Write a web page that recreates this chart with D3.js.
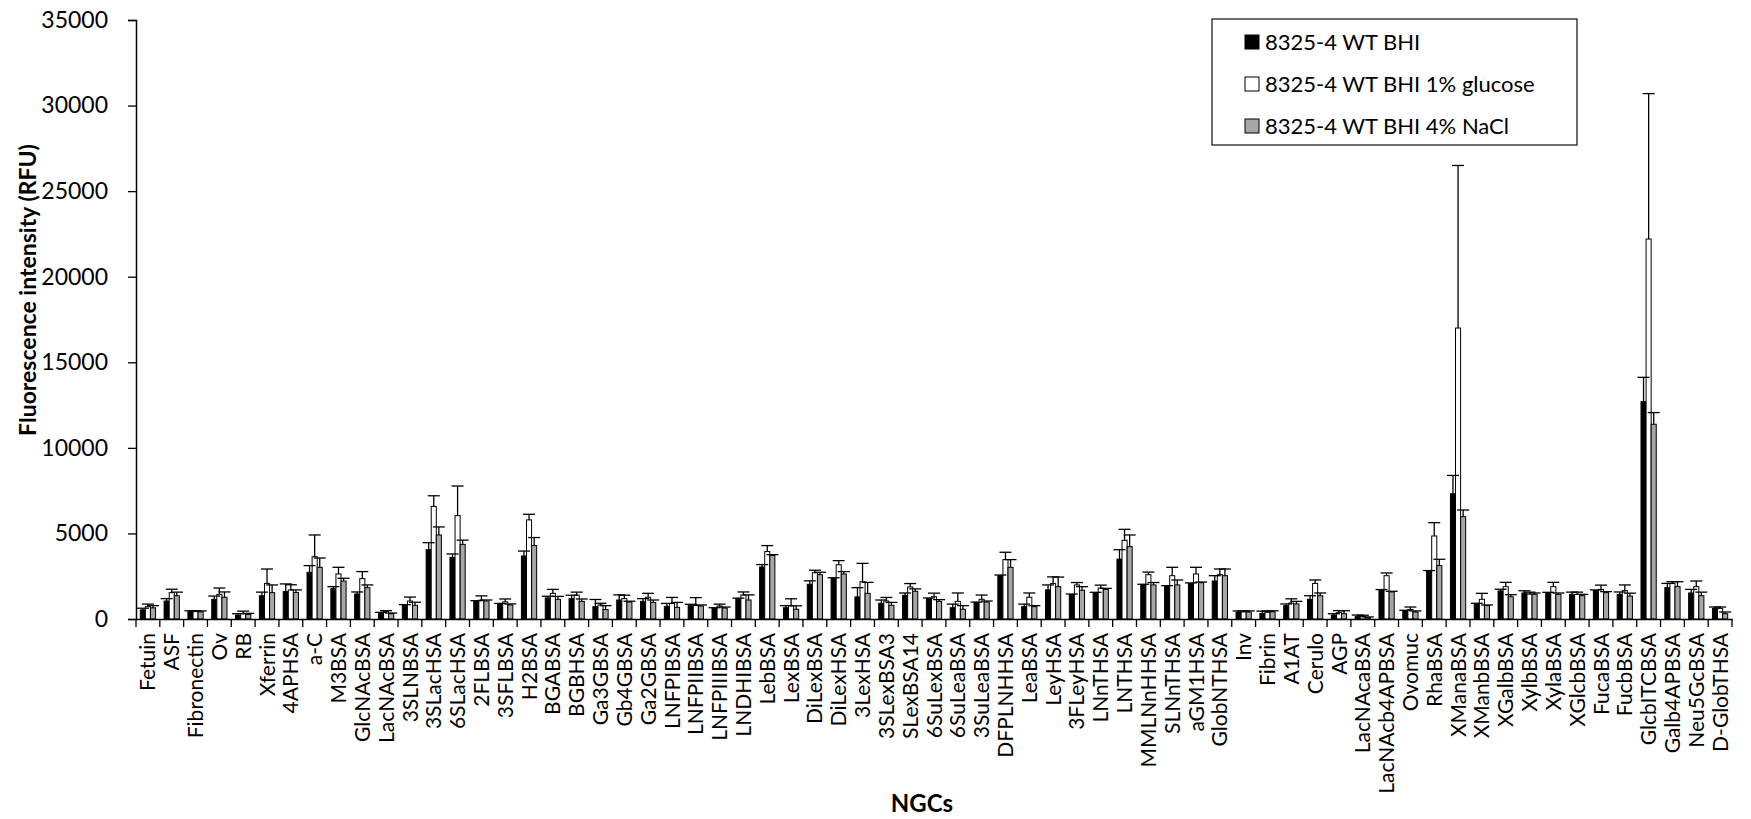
<!DOCTYPE html>
<html><head><meta charset="utf-8">
<script src="https://cdn.jsdelivr.net/npm/d3@7"></script>
<style>body{margin:0;background:#fff} svg{display:block} text{font-family:Lato, "Open Sans", sans-serif}</style>
</head><body><svg id="c" width="1751" height="819"></svg>
<script>
const categories = ["Fetuin","ASF","Fibronectin","Ov","RB","Xferrin","4APHSA","a-C","M3BSA","GlcNAcBSA","LacNAcBSA","3SLNBSA","3SLacHSA","6SLacHSA","2FLBSA","3SFLBSA","H2BSA","BGABSA","BGBHSA","Ga3GBSA","Gb4GBSA","Ga2GBSA","LNFPIBSA","LNFPIIBSA","LNFPIIIBSA","LNDHIBSA","LebBSA","LexBSA","DiLexBSA","DiLexHSA","3LexHSA","3SLexBSA3","SLexBSA14","6SuLexBSA","6SuLeaBSA","3SuLeaBSA","DFPLNHHSA","LeaBSA","LeyHSA","3FLeyHSA","LNnTHSA","LNTHSA","MMLNnHHSA","SLNnTHSA","aGM1HSA","GlobNTHSA","Inv","Fibrin","A1AT","Cerulo","AGP","LacNAcaBSA","LacNAcb4APBSA","Ovomuc","RhaBSA","XManaBSA","XManbBSA","XGalbBSA","XylbBSA","XylaBSA","XGlcbBSA","FucaBSA","FucbBSA","GlcbITCBSA","Galb4APBSA","Neu5GcBSA","D-GlobTHSA"];
const seriesNames = ["8325-4 WT BHI","8325-4 WT BHI 1% glucose","8325-4 WT BHI 4% NaCl"];
const seriesColors = ["#000000","#ffffff","#a6a6a6"];

const bhi =      [530,1050,430,1150,230,1360,1600,2730,1770,1460,310,780,4050,3600,1030,870,3680,1230,1190,720,1110,1030,740,780,620,1190,3040,660,2030,2380,1290,920,1380,1190,660,950,2530,720,1700,1420,1520,3500,1990,1910,2070,2220,410,330,780,1150,230,140,1680,470,2790,7320,880,1640,1520,1520,1440,1660,1440,12700,1830,1520,620];
const bhiErr =   [100,140,50,190,80,210,450,390,120,120,80,60,410,200,40,40,290,100,200,420,300,160,170,80,40,30,140,120,200,30,540,190,140,40,210,40,40,150,290,40,40,550,40,40,40,310,60,130,100,210,80,90,40,40,40,1070,40,100,130,40,130,40,140,1420,250,210,80];
const glucose =  [720,1540,430,1440,310,2080,1700,3640,2630,2360,450,1050,6580,6040,1100,1000,5790,1500,1400,820,1190,1270,910,800,760,1400,3940,780,2700,3170,2180,1050,1870,1300,1030,1150,3470,1270,2070,1990,1810,4600,2590,2530,2630,2590,410,390,930,2080,370,150,2530,560,4850,17000,1150,1890,1450,1890,1440,1730,1660,22200,2080,1890,620];
const glucoseErr=[150,200,50,370,150,840,300,1270,390,410,40,230,620,1730,250,170,330,230,170,100,200,230,350,450,110,180,350,400,150,240,1070,210,200,210,490,250,430,250,390,140,170,640,150,490,390,330,60,80,250,200,120,70,160,140,780,9500,350,250,120,250,130,250,330,8500,100,330,80];
const nacl =     [650,1360,420,1270,270,1540,1550,3020,2220,1830,310,800,4910,4360,1050,820,4290,1150,1030,550,990,970,680,760,640,1110,3720,570,2590,2630,1500,800,1620,1030,570,990,3020,720,1890,1680,1730,4230,1990,1990,2120,2530,410,420,880,1360,310,80,1580,410,3120,5980,780,1300,1440,1440,1360,1540,1340,11380,1890,1360,310];
const naclErr =  [130,210,50,310,60,450,150,545,160,160,40,180,470,250,60,60,470,170,140,230,50,140,290,60,60,300,40,200,140,140,640,170,140,100,210,60,450,60,560,210,60,680,140,290,40,390,60,60,150,160,170,40,40,60,370,390,40,120,80,80,80,60,170,680,290,210,100];
const yTicks = [0,5000,10000,15000,20000,25000,30000,35000];

const values = [bhi, glucose, nacl];
const errors = [bhiErr, glucoseErr, naclErr];

const svg = d3.select("#c");
const x0 = d3.scaleBand().domain(categories).range([136, 1732]).padding(0);
const bw = x0.bandwidth();
const x1 = d3.scaleBand().domain([0,1,2]).range([bw*0.18, bw*0.82]).padding(0);
const y = d3.scaleLinear().domain([0, 35000]).range([619, 20]);

// y axis
const yAxis = svg.append("g").attr("transform","translate(136,0)")
  .call(d3.axisLeft(y).tickValues(yTicks).tickSize(8).tickPadding(20).tickFormat(d3.format("d")));
yAxis.select(".domain").attr("stroke","#000").attr("stroke-width",1.5);
yAxis.selectAll(".tick line").attr("stroke","#000").attr("stroke-width",1.3);
yAxis.selectAll(".tick text").attr("font-size",23).attr("fill","#000");

// bars
const data = [];
categories.forEach((c,i)=>{ for(let s=0;s<3;s++) data.push({c, s, v: values[s][i], e: errors[s][i]}); });

svg.append("g").selectAll("rect").data(data).join("rect")
  .attr("x", d => x0(d.c) + x1(d.s))
  .attr("y", d => y(d.v))
  .attr("width", x1.bandwidth())
  .attr("height", d => y(0) - y(d.v))
  .attr("fill", d => seriesColors[d.s])
  .attr("stroke", "#000").attr("stroke-width", 1);

// error bars
const eg = svg.append("g").attr("stroke","#000").attr("stroke-width",1.3);
eg.selectAll("line.v").data(data).join("line").attr("class","v")
  .attr("x1", d => x0(d.c) + x1(d.s) + x1.bandwidth()/2)
  .attr("x2", d => x0(d.c) + x1(d.s) + x1.bandwidth()/2)
  .attr("y1", d => y(d.v)).attr("y2", d => y(d.v + d.e));
eg.selectAll("line.cap").data(data).join("line").attr("class","cap")
  .attr("x1", d => x0(d.c) + x1(d.s) + x1.bandwidth()/2 - 6)
  .attr("x2", d => x0(d.c) + x1(d.s) + x1.bandwidth()/2 + 6)
  .attr("y1", d => y(d.v + d.e)).attr("y2", d => y(d.v + d.e));

// x axis
const xAxis = svg.append("g").attr("transform","translate(0,619)")
  .call(d3.axisBottom(x0).tickSize(0).tickPadding(0));
xAxis.select(".domain").attr("stroke","#000").attr("stroke-width",1.5);
xAxis.selectAll(".tick text")
  .attr("transform","rotate(-90)")
  .attr("x",-14).attr("y",0).attr("dy","0.36em")
  .attr("text-anchor","end").attr("font-size",21).attr("fill","#000");
// boundary ticks
const bounds = categories.map(c => x0(c)).concat([x0.range()[1]]);
svg.append("g").selectAll("line").data(bounds).join("line")
  .attr("x1", d=>d).attr("x2", d=>d).attr("y1", 619).attr("y2", 627)
  .attr("stroke","#000").attr("stroke-width",1.3);

// axis titles
svg.append("text").attr("transform","translate(28,290) rotate(-90)")
  .attr("text-anchor","middle").attr("dy","0.35em").attr("font-size",23).attr("font-weight","bold")
  .text("Fluorescence intensity (RFU)");
svg.append("text").attr("x", 922).attr("y", 804).attr("dy","0.35em")
  .attr("text-anchor","middle").attr("font-size",24).attr("font-weight","bold").text("NGCs");

// legend
const lg = svg.append("g");
lg.append("rect").attr("x",1212).attr("y",19).attr("width",365).attr("height",126)
  .attr("fill","#fff").attr("stroke","#222").attr("stroke-width",1.3);
seriesNames.forEach((n,i)=>{
  const yy = 42 + i*42;
  lg.append("rect").attr("x",1245).attr("y",yy-7).attr("width",14).attr("height",14)
    .attr("fill",seriesColors[i]).attr("stroke","#000").attr("stroke-width",1);
  lg.append("text").attr("x",1265).attr("y",yy).attr("dy","0.35em").attr("font-size",22).attr("fill","#000").text(n);
});
</script></body></html>
